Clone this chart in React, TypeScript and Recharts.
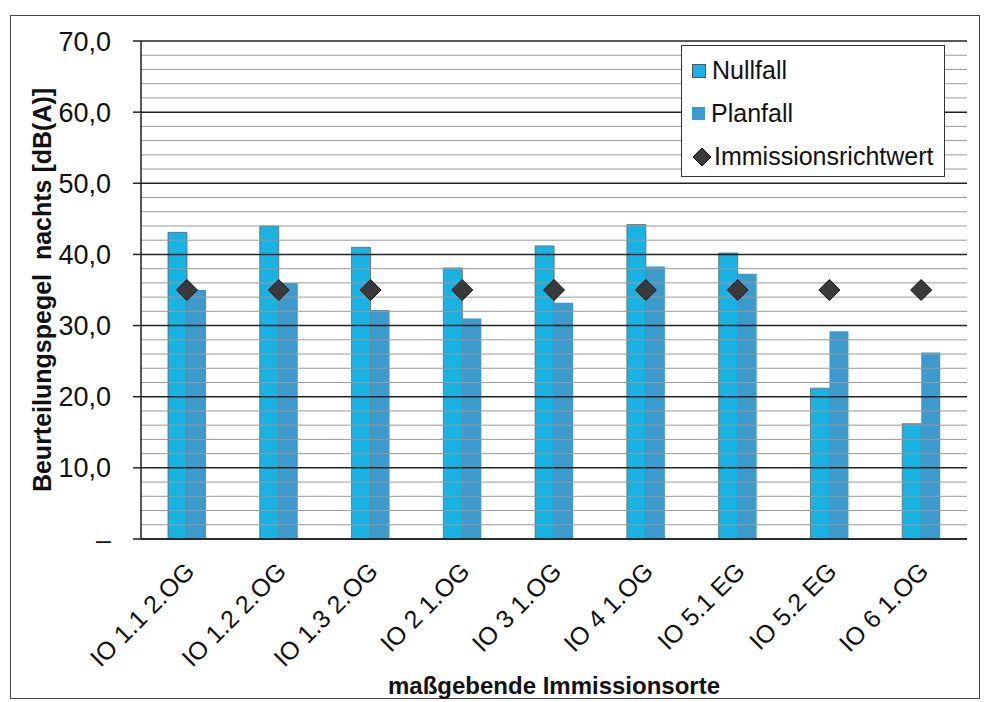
import { ComposedChart, Bar, Scatter, XAxis, YAxis, ReferenceLine } from 'recharts'

const orte = ['IO 1.1 2.OG', 'IO 1.2 2.OG', 'IO 1.3 2.OG', 'IO 2 1.OG', 'IO 3 1.OG', 'IO 4 1.OG', 'IO 5.1 EG', 'IO 5.2 EG', 'IO 6 1.OG']
const nullfall = [43.1, 44.0, 41.0, 38.1, 41.2, 44.2, 40.2, 21.2, 16.2]
const planfall = [35.0, 36.0, 32.2, 31.0, 33.2, 38.3, 37.3, 29.2, 26.2]
const richtwert = [35, 35, 35, 35, 35, 35, 35, 35, 35]
const majorTicks = [0, 10, 20, 30, 40, 50, 60, 70]
const minorTicks = [2, 4, 6, 8, 12, 14, 16, 18, 22, 24, 26, 28, 32, 34, 36, 38, 42, 44, 46, 48, 52, 54, 56, 58, 62, 64, 66, 68]

const data = orte.map((ort, i) => ({ ort, nullfall: nullfall[i], planfall: planfall[i], richtwert: richtwert[i] }))

const C_NULL = '#18b3e2'
const C_PLAN = '#3d9acd'
const C_DIA = '#3a3a3a'
const FONT = 'Arial, "Liberation Sans", sans-serif'

const fmt = (v: number) => (v === 0 ? '–' : v.toFixed(1).replace('.', ','))

function OrtTick({ x, y, payload }: any) {
  const tx = x + 9
  const ty = y + 26
  return (
    <text x={tx} y={ty} transform={`rotate(-45, ${tx}, ${ty})`} textAnchor="end"
      fontSize={25} fontFamily={FONT} fill="#111">
      {payload.value}
    </text>
  )
}

function Diamond({ cx, cy }: any) {
  if (cx == null || cy == null) return null
  const r = 10.5
  return <polygon points={`${cx},${cy - r} ${cx + r},${cy} ${cx},${cy + r} ${cx - r},${cy}`} fill={C_DIA} stroke="#111" strokeWidth={1} />
}

function LegendBox() {
  const row = { display: 'flex', alignItems: 'center', height: 43, fontSize: 25, fontFamily: FONT, color: '#111' }
  const sq = (c: string) => ({ width: 12, height: 12, background: c, border: '1px solid #555', marginRight: 6 })
  return (
    <div style={{ position: 'absolute', left: 681, top: 45, width: 264, height: 132, background: '#fff', border: '1.5px solid #333', boxSizing: 'border-box', padding: '3px 0 0 10px' }}>
      <div style={row}><span style={sq(C_NULL)} />Nullfall</div>
      <div style={row}><span style={{ ...sq(C_PLAN), border: 'none', width: 13, height: 13 }} />Planfall</div>
      <div style={row}>
        <svg width={20} height={20} style={{ marginRight: 2 }}><polygon points="10,1 19,10 10,19 1,10" fill={C_DIA} stroke="#111" /></svg>
        Immissionsrichtwert
      </div>
    </div>
  )
}

export default function App() {
  return (
    <div style={{ position: 'absolute', left: 0, top: 0, width: 985, height: 702, background: '#fff' }}>
      <div style={{ position: 'absolute', left: 10, top: 15, width: 970, height: 684, border: '1.5px solid #444', boxSizing: 'border-box' }} />
      <div style={{ position: 'absolute', left: 0, top: 0 }}>
        <ComposedChart width={985} height={702} data={data} margin={{ top: 41, right: 18, bottom: 33, left: 10 }} barGap={0}>
          {minorTicks.map(v => (
            <ReferenceLine key={'m' + v} y={v} stroke="#9a9a9a" strokeWidth={1} />
          ))}
          {majorTicks.map(v => (
            <ReferenceLine key={'M' + v} y={v} stroke="#222" strokeWidth={1.5} />
          ))}
          <XAxis dataKey="ort" height={130} interval={0} tickLine={false} tick={<OrtTick />}
            axisLine={{ stroke: '#222', strokeWidth: 1.5 }}
            label={{ value: 'maßgebende Immissionsorte', position: 'bottom', offset: 8, style: { fontSize: 24, fontWeight: 'bold', fontFamily: FONT, fill: '#111' } }} />
          <YAxis width={131} domain={[0, 70]} ticks={majorTicks} tickFormatter={fmt} tickSize={8} tickMargin={22}
            tick={{ fontSize: 27, fontFamily: FONT, fill: '#111' }}
            tickLine={{ stroke: '#222', strokeWidth: 1.5 }} axisLine={{ stroke: '#222', strokeWidth: 1.5 }}
            label={{ value: 'Beurteilungspegel\u00a0 nachts [dB(A)]', angle: -90, position: 'insideLeft', offset: 32, style: { textAnchor: 'middle', fontSize: 25, fontWeight: 'bold', fontFamily: FONT, fill: '#111' } }} />
          <YAxis yAxisId="r" orientation="right" width={0} domain={[0, 70]} tick={false} tickLine={false}
            axisLine={{ stroke: '#222', strokeWidth: 1.5 }} />
          <Bar dataKey="nullfall" name="Nullfall" fill={C_NULL} stroke="#666" strokeWidth={0.8} barSize={19} isAnimationActive={false} />
          <Bar dataKey="planfall" name="Planfall" fill={C_PLAN} barSize={19} isAnimationActive={false} />
          <Scatter dataKey="richtwert" name="Immissionsrichtwert" shape={<Diamond />} isAnimationActive={false} />
        </ComposedChart>
      </div>
      <LegendBox />
    </div>
  )
}
